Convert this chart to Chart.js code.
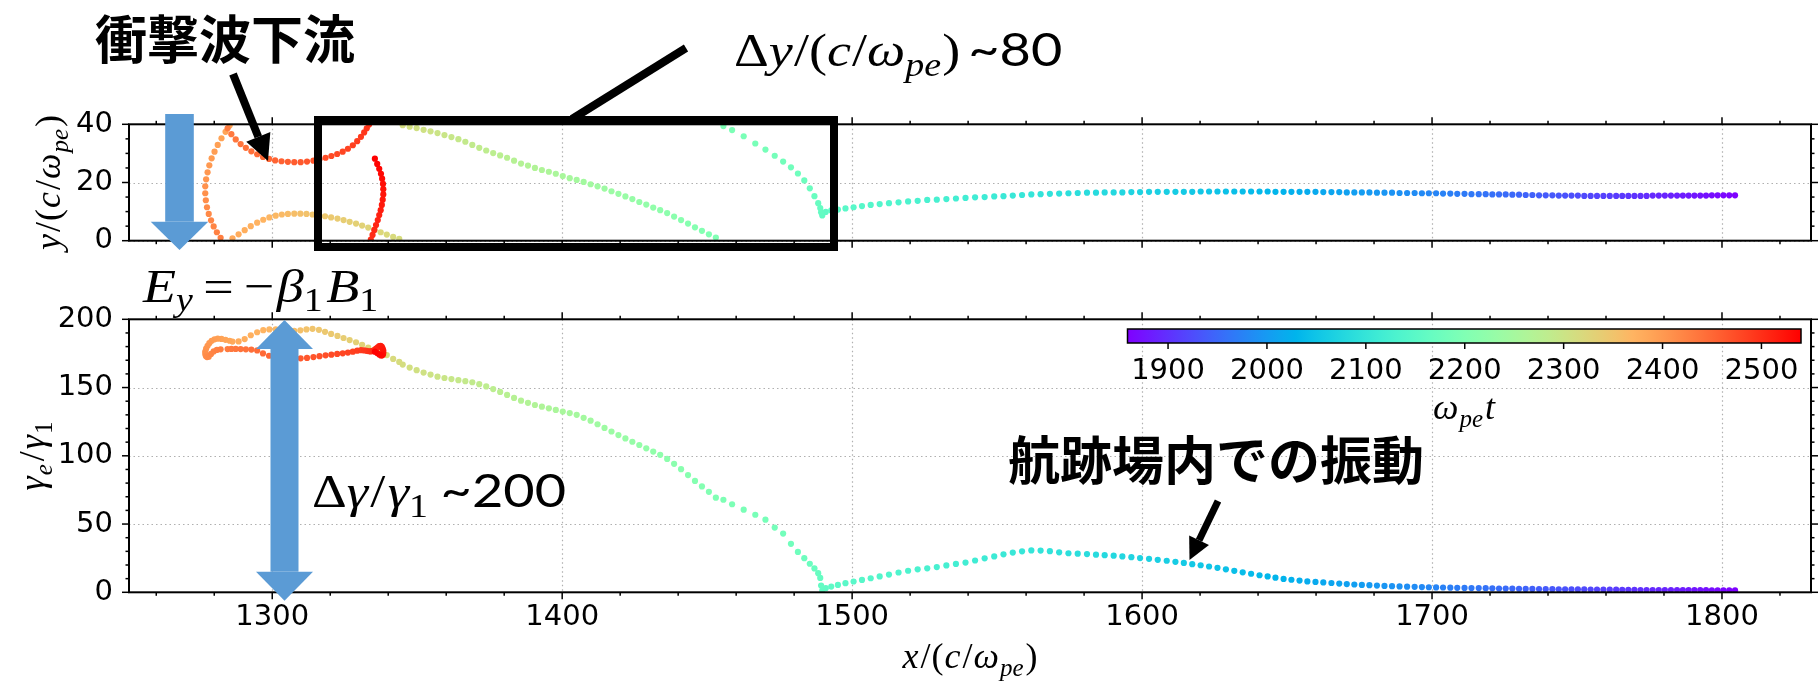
<!DOCTYPE html>
<html>
<head>
<meta charset="utf-8">
<script src="https://cdn.jsdelivr.net/npm/chart.js@4.4.1/dist/chart.umd.min.js"></script>
<style>
  html, body { margin: 0; padding: 0; background: #fff; }
  #wrap { position: relative; width: 1820px; height: 682px; overflow: hidden; }
  #wrap canvas { position: absolute; left: 0; top: 0; }
</style>
</head>
<body>
<div id="wrap">
  <canvas id="topChart" width="1820" height="682"></canvas>
  <canvas id="bottomChart" width="1820" height="682"></canvas>
  <canvas id="notes" width="1820" height="682"></canvas>
</div>
<script>
// sample times (omega_pe t) of the tracked electron
const timeW = [
  1860,1862.5,1865,1867.5,1870,1872.5,1875,1877.5,1880,1882.5,
  1885,1887.5,1890,1892.5,1895,1897.5,1900,1902.5,1905,1907.5,
  1910,1912.5,1915,1917.5,1920,1922.5,1925,1927.5,1930,1932.5,
  1935,1937.5,1940,1942.5,1945,1947.5,1950,1952.5,1955,1957.5,
  1960,1962.5,1965,1967.5,1970,1972.5,1975,1977.5,1980,1982.5,
  1985,1987.5,1990,1992.5,1995,1997.5,2000,2002.5,2005,2007.5,
  2010,2012.5,2015,2017.5,2020,2022.5,2025,2027.5,2030,2032.5,
  2035,2037.5,2040,2042.5,2045,2047.5,2050,2052.5,2055,2057.5,
  2060,2062.5,2065,2067.5,2070,2072.5,2075,2077.5,2080,2082.5,
  2085,2087.5,2090,2092.5,2095,2097.5,2100,2102.5,2105,2107.5,
  2110,2112.5,2115,2117.5,2120,2122.5,2125,2127.5,2130,2132.5,
  2135,2137.5,2140,2142.5,2145,2147.5,2150,2152.5,2155,2157.5,
  2160,2162.5,2165,2167.5,2170,2172.5,2175,2177.5,2180,2182.5,
  2185,2187.5,2190,2192.5,2195,2197.5,2200,2202.5,2205,2207.5,
  2210,2212.5,2215,2217.5,2220,2222.5,2225,2227.5,2230,2232.5,
  2235,2237.5,2240,2242.5,2245,2247.5,2250,2252.5,2255,2257.5,
  2260,2262.5,2265,2267.5,2270,2272.5,2275,2277.5,2280,2282.5,
  2285,2287.5,2290,2292.5,2295,2297.5,2300,2302.5,2305,2307.5,
  2310,2312.5,2315,2317.5,2320,2322.5,2325,2327.5,2330,2332.5,
  2335,2337.5,2340,2342.5,2345,2347.5,2350,2352.5,2355,2357.5,
  2360,2362.5,2365,2367.5,2370,2372.5,2375,2377.5,2380,2382.5,
  2385,2387.5,2390,2392.5,2395,2397.5,2400,2402.5,2405,2407.5,
  2410,2412.5,2415,2417.5,2420,2422.5,2425,2427.5,2430,2432.5,
  2435,2437.5,2440,2442.5,2445,2447.5,2450,2452.5,2455,2457.5,
  2460,2462.5,2465,2467.5,2470,2472.5,2475,2477.5,2480,2482.5,
  2485,2487.5,2490,2492.5,2495,2497.5,2500,2502.5,2505,2507.5,
  2510,2512.5,2515,2517.5,2520,2522.5,2525,2527.5,2530,2532.5,
  2535,2537.5,2540
];

// x / (c/omega_pe)
const posX = [
  1804.5,1802.5,1800.5,1798.5,1796.5,1794.5,1792.5,1790.5,1788.5,1786.5,
  1784.5,1782.4,1780.3,1778.2,1776.1,1774.0,1771.9,1769.8,1767.7,1765.6,
  1763.5,1761.3,1759.1,1756.9,1754.7,1752.5,1750.3,1748.1,1745.9,1743.7,
  1741.5,1739.2,1736.9,1734.6,1732.3,1730.0,1727.7,1725.4,1723.1,1720.8,
  1718.5,1716.1,1713.6,1711.2,1708.7,1706.3,1703.8,1701.4,1698.9,1696.5,
  1694.0,1691.4,1688.8,1686.2,1683.6,1681.0,1678.4,1675.8,1673.2,1670.6,
  1668.0,1665.3,1662.5,1659.8,1657.0,1654.3,1651.5,1648.8,1646.0,1643.3,
  1640.5,1637.6,1634.7,1631.8,1628.9,1626.0,1623.1,1620.2,1617.3,1614.4,
  1611.5,1608.5,1605.4,1602.4,1599.3,1596.3,1593.2,1590.2,1587.1,1584.1,
  1581.0,1577.8,1574.6,1571.4,1568.2,1565.0,1561.8,1558.6,1555.4,1552.2,
  1549.0,1545.7,1542.4,1539.1,1535.8,1532.5,1529.2,1525.9,1522.6,1519.3,
  1516.0,1512.7,1509.5,1506.4,1503.4,1500.5,1497.7,1495.1,1492.8,1490.9,
  1489.7,1489.3,1489.0,1488.3,1487.0,1485.4,1483.5,1481.3,1478.9,1476.2,
  1473.3,1470.1,1466.6,1462.6,1458.6,1455.6,
  1453.0,1450.6,1448.2,1445.8,1443.4,1441.0,1438.6,1436.2,1433.8,1431.4,
  1429.0,1426.6,1424.2,1421.8,1419.4,1417.0,1414.6,1412.2,1409.8,1407.4,
  1405.0,1402.6,1400.2,1397.8,1395.4,1393.0,1390.6,1388.2,1385.8,1383.4,
  1381.0,1378.6,1376.2,1373.8,1371.4,1369.0,1366.6,1364.2,1361.8,1359.4,
  1357.0,1354.6,1352.2,1349.8,1347.4,1345.0,
  1343.8,1341.7,1339.5,1337.4,1335.3,1333.1,1331.0,1328.9,1326.7,1324.6,
  1322.5,1320.3,1318.2,1316.1,1313.9,1311.8,1309.7,1307.6,1305.4,1303.3,
  1301.2,1299.0,1296.9,1294.8,1292.6,1290.5,1288.4,1286.3,
  1285.3,1283.9,1282.5,1281.2,1280.1,1279.1,1278.3,1277.7,1277.2,1276.9,
  1276.9,1277.1,1277.5,1278.1,1278.9,1279.8,1280.9,1282.2,
  1284.6,1285.9,1287.4,1289.1,1290.9,1292.8,1294.8,1296.8,1298.9,1301.0,
  1303.2,1305.4,1307.6,1309.8,1312.0,1314.2,1316.3,1318.4,1320.4,1322.4,
  1324.3,1326.1,1327.8,1329.3,1330.6,1331.7,1332.6,1333.4,
  1334.0,1334.6,1335.2,1335.8,1336.4,1336.9,1337.4,1337.8,1338.1,1338.3,
  1338.3,1338.2,1337.9,1337.5,1336.9,1336.2,1335.4
];

// y / (c/omega_pe), periodic in [0, 40]
const posY = [
  15.6,15.6,15.6,15.6,15.6,15.5,15.5,15.5,15.5,15.5,
  15.5,15.5,15.5,15.5,15.5,15.4,15.4,15.4,15.4,15.4,
  15.4,15.4,15.4,15.4,15.4,15.4,15.5,15.5,15.5,15.5,
  15.6,15.6,15.6,15.7,15.7,15.8,15.8,15.9,15.9,15.9,
  16.0,16.0,16.0,16.1,16.1,16.2,16.2,16.3,16.3,16.3,
  16.4,16.4,16.4,16.5,16.5,16.5,16.6,16.6,16.6,16.6,
  16.7,16.7,16.7,16.8,16.8,16.8,16.8,16.8,16.8,16.9,
  16.9,16.9,16.9,16.9,16.9,16.9,16.9,16.9,16.8,16.8,
  16.8,16.8,16.8,16.8,16.7,16.7,16.6,16.6,16.6,16.5,
  16.5,16.4,16.3,16.2,16.1,16.0,15.9,15.7,15.5,15.3,
  15.2,15.0,14.9,14.7,14.5,14.3,14.1,14.0,13.7,13.5,
  13.2,12.9,12.6,12.3,11.9,11.5,11.1,10.7,10.4,9.9,
  8.7,9.8,11.2,12.9,15.3,18.0,20.7,23.1,25.2,27.2,
  29.2,31.3,33.4,35.9,38.0,39.4,
  1.1,2.2,3.4,4.6,5.9,7.1,8.3,9.5,10.5,11.4,
  12.4,13.3,14.3,15.2,16.1,17.0,17.9,18.7,19.4,20.2,
  20.9,21.5,22.2,23.0,23.7,24.3,25.0,25.8,26.5,27.5,
  28.5,29.3,30.1,31.0,31.9,32.9,34.0,34.9,35.6,36.3,
  37.0,37.6,38.1,38.7,39.2,39.7,
  0.6,1.3,2.1,2.9,3.7,4.5,5.2,5.9,6.5,7.1,
  7.6,8.0,8.4,8.7,9.0,9.2,9.3,9.3,9.2,9.0,
  8.6,8.0,7.2,6.2,5.0,3.6,2.2,0.8,
  39.6,37.4,35.2,32.9,30.6,28.3,25.9,23.5,21.1,18.7,
  16.3,13.9,11.5,9.2,7.0,4.9,2.9,1.0,
  38.6,36.6,34.8,33.2,31.9,30.7,29.7,28.8,28.1,27.6,
  27.3,27.1,27.0,27.0,27.2,27.5,28.0,28.5,29.1,29.8,
  30.6,31.6,32.8,34.2,35.7,37.2,38.6,39.9,
  0.4,2.0,3.7,5.4,7.1,8.8,10.5,12.3,14.1,15.9,
  17.7,19.5,21.3,23.0,24.7,26.4,28.2
];

// gamma_e / gamma_1
const gammaE = [
  1.5,1.5,1.5,1.5,1.5,1.6,1.6,1.6,1.6,1.6,
  1.6,1.6,1.7,1.7,1.7,1.7,1.7,1.8,1.8,1.8,
  1.9,1.9,1.9,2.0,2.0,2.1,2.1,2.1,2.2,2.2,
  2.3,2.3,2.4,2.5,2.5,2.6,2.7,2.7,2.8,2.9,
  3.0,3.1,3.1,3.2,3.3,3.4,3.5,3.6,3.7,3.8,
  4.0,4.1,4.3,4.5,4.7,4.9,5.2,5.4,5.7,6.0,
  6.4,6.8,7.2,7.6,8.0,8.6,9.2,9.8,10.7,11.6,
  12.5,13.6,14.6,15.7,16.8,17.9,18.9,19.8,20.6,21.5,
  22.3,23.1,23.8,24.5,25.1,25.7,26.3,26.8,27.2,27.6,
  28.0,28.3,28.6,29.3,30.1,30.6,30.7,30.0,29.1,27.8,
  26.3,24.9,23.3,21.8,20.8,19.7,18.5,17.6,16.8,15.8,
  14.5,13.0,11.6,10.3,9.1,7.9,6.7,5.4,4.2,3.0,
  1.2,5.0,10.5,14.0,17.5,20.9,25.0,29.6,35.5,43.0,
  47.4,53.2,56.8,60.5,64.5,67.8,
  69.3,73.6,77.6,81.6,85.9,90.2,94.1,97.7,100.7,103.1,
  105.5,107.9,110.3,112.7,115.2,117.8,120.4,123.1,125.7,127.8,
  130.0,131.3,132.4,133.6,134.8,136.0,137.2,138.8,140.4,142.4,
  144.6,146.8,148.9,150.8,152.5,153.9,154.7,155.4,156.2,157.0,
  158.0,159.5,161.0,162.7,164.6,166.8,
  168.8,171.0,173.8,175.8,177.5,179.3,181.3,183.2,184.8,186.3,
  187.8,189.3,190.8,192.3,193.0,192.6,191.9,191.6,191.8,192.2,
  192.6,192.6,192.0,190.5,188.3,185.5,183.8,183.7,
  184.3,185.0,185.6,185.8,185.3,184.2,182.5,180.6,178.5,176.4,
  174.6,173.2,172.3,172.6,174.6,176.5,177.6,178.0,
  178.2,178.3,178.3,178.2,178.0,177.8,177.2,175.0,173.3,172.6,
  172.2,171.8,171.5,171.4,171.7,172.3,173.0,173.6,174.1,174.6,
  175.1,175.6,176.3,177.0,177.4,177.2,176.9,176.6,
  176.5,176.8,177.5,178.5,179.5,180.3,180.5,179.8,178.5,177.0,
  175.5,174.3,173.6,173.5,174.2,175.3,176.3
];

// axis ticks
const xTicks = [1300, 1400, 1500, 1600, 1700, 1800];
const xMinor = [1260, 1280, 1320, 1340, 1360, 1380, 1420, 1440, 1460, 1480, 1520, 1540, 1560, 1580,
                1620, 1640, 1660, 1680, 1720, 1740, 1760, 1780, 1820];
const yTopTicks = [0, 20, 40];
const yTopMinor = [5, 10, 15, 25, 30, 35];
const gammaTicks = [0, 50, 100, 150, 200];
const gammaMinor = [10, 20, 30, 40, 60, 70, 80, 90, 110, 120, 130, 140, 160, 170, 180, 190];
const cbarTicks = [1900, 2000, 2100, 2200, 2300, 2400, 2500];
const cbarRange = [1859, 2540];

// matplotlib "rainbow" colormap
function rainbow(f) {
  f = Math.max(0, Math.min(1, f));
  const r = Math.min(1, Math.abs(2 * f - 0.5));
  const g = Math.sin(Math.PI * f);
  const b = Math.cos(Math.PI * f / 2);
  return `rgb(${Math.round(r * 255)},${Math.round(g * 255)},${Math.round(b * 255)})`;
}
const pointColors = timeW.map(t => rainbow((t - cbarRange[0]) / (cbarRange[1] - cbarRange[0])));

const tickFont = { family: "'DejaVu Sans'", size: 29 };

// dotted grid under the points, frame and ticks on top of them
const framePlugin = {
  id: 'frame',
  beforeDatasetsDraw(chart, args, opts) {
    const { ctx, chartArea: a, scales } = chart;
    ctx.save();
    ctx.strokeStyle = '#b0b0b0';
    ctx.lineWidth = 1.2;
    ctx.setLineDash([1.5, 3]);
    xTicks.forEach(v => {
      const px = Math.round(scales.x.getPixelForValue(v)) + 0.5;
      ctx.beginPath(); ctx.moveTo(px, a.top); ctx.lineTo(px, a.bottom); ctx.stroke();
    });
    opts.yMajor.forEach(v => {
      const py = Math.round(scales.y.getPixelForValue(v)) + 0.5;
      ctx.beginPath(); ctx.moveTo(a.left, py); ctx.lineTo(a.right, py); ctx.stroke();
    });
    ctx.restore();
  },
  afterDatasetsDraw(chart, args, opts) {
    const { ctx, chartArea: a, scales } = chart;
    const line = (x1, y1, x2, y2) => { ctx.beginPath(); ctx.moveTo(x1, y1); ctx.lineTo(x2, y2); ctx.stroke(); };
    ctx.save();
    ctx.strokeStyle = '#000';
    ctx.lineWidth = 1.5;
    const xs = [[xTicks, 7], [xMinor, 3.5]];
    xs.forEach(([vals, len]) => vals.forEach(v => {
      const px = scales.x.getPixelForValue(v);
      if (px < a.left - 0.5 || px > a.right + 0.5) return;
      line(px, a.bottom, px, a.bottom + len);
      line(px, a.top, px, a.top - len);
    }));
    const ys = [[opts.yMajor, 7], [opts.yMinor, 3.5]];
    ys.forEach(([vals, len]) => vals.forEach(v => {
      const py = scales.y.getPixelForValue(v);
      line(a.left, py, a.left - len, py);
      line(a.right, py, a.right + len, py);
    }));
    ctx.lineWidth = 2;
    ctx.strokeRect(a.left, a.top, a.right - a.left, a.bottom - a.top);
    ctx.restore();
  }
};

function axisX(showLabels) {
  return {
    type: 'linear', min: 1250.6, max: 1830.7,
    afterBuildTicks: s => { s.ticks = xTicks.map(v => ({ value: v })); },
    afterFit: s => { s.height = showLabels ? 50 : 0; },
    ticks: { display: showLabels, font: tickFont, color: '#000', padding: 8, maxRotation: 0,
             callback: v => String(v) },
    grid: { display: false, drawTicks: false }, border: { display: false }
  };
}
function axisY(min, max, ticks) {
  return {
    type: 'linear', min: min, max: max,
    afterBuildTicks: s => { s.ticks = ticks.map(v => ({ value: v })); },
    afterFit: s => { s.width = 129; },
    ticks: { font: tickFont, color: '#000', padding: 16, callback: v => String(v) },
    grid: { display: false, drawTicks: false }, border: { display: false }
  };
}

const topChart = new Chart(document.getElementById('topChart'), {
  type: 'scatter',
  data: {
    datasets: [{
      data: posX.map((x, i) => ({ x: x, y: posY[i] })),
      pointRadius: 3.1, pointBorderWidth: 0,
      pointBackgroundColor: pointColors
    }]
  },
  options: {
    responsive: false, animation: false, devicePixelRatio: 1,
    layout: { padding: { top: 124.3, left: 0, right: 9, bottom: 682 - 240.7 } },
    plugins: { legend: { display: false }, tooltip: { enabled: false },
               frame: { yMajor: yTopTicks, yMinor: yTopMinor } },
    scales: { x: axisX(false), y: axisY(0, 40, yTopTicks) }
  },
  plugins: [framePlugin]
});

const bottomChart = new Chart(document.getElementById('bottomChart'), {
  type: 'scatter',
  data: {
    datasets: [{
      data: posX.map((x, i) => ({ x: x, y: gammaE[i] })),
      pointRadius: 3.1, pointBorderWidth: 0,
      pointBackgroundColor: pointColors
    }]
  },
  options: {
    responsive: false, animation: false, devicePixelRatio: 1,
    layout: { padding: { top: 319.3, left: 0, right: 9, bottom: 682 - 592.3 - 50 } },
    plugins: { legend: { display: false }, tooltip: { enabled: false },
               frame: { yMajor: gammaTicks, yMinor: gammaMinor } },
    scales: { x: axisX(true), y: axisY(0, 200, gammaTicks) }
  },
  plugins: [framePlugin]
});

// ---------- labels, colorbar and slide annotations ----------
const SERIF = "'Liberation Serif'";
function it(s) { return `italic ${s}px ${SERIF}`; }
function rm(s) { return `${s}px ${SERIF}`; }

// parts: [text, font, dy, gapAfter]
function richText(ctx, parts, x, y, align) {
  let w = 0;
  parts.forEach(p => { ctx.font = p[1]; w += ctx.measureText(p[0]).width + (p[3] || 0); });
  let cx = align === 'center' ? x - w / 2 : x;
  parts.forEach(p => {
    ctx.font = p[1];
    ctx.fillText(p[0], cx, y + (p[2] || 0));
    cx += ctx.measureText(p[0]).width + (p[3] || 0);
  });
}
// slide equations are set in a wider face than Times; stretch a little
function wideText(ctx, parts, x, y, sx) {
  ctx.save();
  ctx.translate(x, y); ctx.scale(sx, 1);
  richText(ctx, parts, 0, 0, 'left');
  ctx.restore();
}

function lineArrow(ctx, x1, y1, x2, y2, w, headL, headW) {
  const ang = Math.atan2(y2 - y1, x2 - x1);
  const bx = x2 - headL * Math.cos(ang), by = y2 - headL * Math.sin(ang);
  ctx.lineWidth = w;
  ctx.beginPath(); ctx.moveTo(x1, y1); ctx.lineTo(bx, by); ctx.stroke();
  ctx.beginPath();
  ctx.moveTo(x2, y2);
  ctx.lineTo(bx + headW / 2 * Math.sin(ang), by - headW / 2 * Math.cos(ang));
  ctx.lineTo(bx - headW / 2 * Math.sin(ang), by + headW / 2 * Math.cos(ang));
  ctx.closePath(); ctx.fill();
}

function blockArrow(ctx, cx, yTail, yTip, shaftW, headW, headL, both) {
  const dir = Math.sign(yTip - yTail);
  const yBase = yTip - dir * headL;
  const yStart = both ? yTail + dir * headL : yTail;
  ctx.fillRect(cx - shaftW / 2, Math.min(yStart, yBase), shaftW, Math.abs(yBase - yStart));
  const head = (tip, base) => {
    ctx.beginPath();
    ctx.moveTo(cx - headW / 2, base); ctx.lineTo(cx, tip); ctx.lineTo(cx + headW / 2, base);
    ctx.closePath(); ctx.fill();
  };
  head(yTip, yBase);
  if (both) head(yTail, yStart);
}

function drawNotes() {
  const ctx = document.getElementById('notes').getContext('2d');
  ctx.fillStyle = '#000';
  ctx.strokeStyle = '#000';
  ctx.textBaseline = 'alphabetic';

  // axis titles (matplotlib mathtext)
  const S = 36, sub = Math.round(S * 0.7);
  richText(ctx, [['x', it(S), 0, 2], ['/', rm(S), 0, 1], ['(', rm(S), 0, 1], ['c', it(S), 0, 2],
                 ['/', rm(S), 0, 1], ['ω', it(S), 0, 1], ['pe', it(sub), 8, 2], [')', rm(S)]],
           970, 668, 'center');
  ctx.save();
  ctx.translate(60, 182.5); ctx.rotate(-Math.PI / 2);
  richText(ctx, [['y', it(S), 0, 2], ['/', rm(S), 0, 1], ['(', rm(S), 0, 1], ['c', it(S), 0, 2],
                 ['/', rm(S), 0, 1], ['ω', it(S), 0, 1], ['pe', it(sub), 8, 2], [')', rm(S)]],
           0, 0, 'center');
  ctx.restore();
  ctx.save();
  ctx.translate(44, 456); ctx.rotate(-Math.PI / 2);
  richText(ctx, [['γ', it(S), 0, 1], ['e', it(sub), 8, 3], ['/', rm(S), 0, 2], ['γ', it(S), 0, 1], ['1', rm(sub), 8]],
           0, 0, 'center');
  ctx.restore();

  // colorbar inside the lower panel
  const cb = { left: 1127.5, right: 1801, top: 329, bottom: 343 };
  const grad = ctx.createLinearGradient(cb.left, 0, cb.right, 0);
  for (let i = 0; i <= 40; i++) grad.addColorStop(i / 40, rainbow(i / 40));
  ctx.fillStyle = grad;
  ctx.fillRect(cb.left, cb.top, cb.right - cb.left, cb.bottom - cb.top);
  ctx.lineWidth = 1.5;
  ctx.strokeRect(cb.left, cb.top, cb.right - cb.left, cb.bottom - cb.top);
  ctx.fillStyle = '#000';
  ctx.font = "29px 'DejaVu Sans'";
  ctx.textAlign = 'center';
  ctx.textBaseline = 'middle';
  cbarTicks.forEach(v => {
    const px = cb.left + (v - cbarRange[0]) / (cbarRange[1] - cbarRange[0]) * (cb.right - cb.left);
    ctx.beginPath(); ctx.moveTo(px, cb.bottom); ctx.lineTo(px, cb.bottom + 6); ctx.stroke();
    ctx.fillText(String(v), px, 371);
  });
  ctx.textAlign = 'left';
  ctx.textBaseline = 'alphabetic';
  richText(ctx, [['ω', it(S), 0, 1], ['pe', it(sub), 8, 2], ['t', it(S)]], 1464, 419, 'center');

  // black box around the upper panel region and its leader line
  ctx.lineWidth = 8;
  ctx.strokeRect(318, 120, 834 - 318, 247 - 120);
  ctx.beginPath(); ctx.moveTo(572, 119); ctx.lineTo(686, 48); ctx.stroke();

  // blue arrows
  ctx.fillStyle = '#5b9bd5';
  blockArrow(ctx, 179.5, 114, 250, 28.6, 57.6, 28.3, false);
  blockArrow(ctx, 284.5, 320, 600.7, 28, 57, 29, true);

  // black pointer arrows
  ctx.fillStyle = '#000';
  lineArrow(ctx, 233, 74, 268, 161, 8, 26, 26);
  lineArrow(ctx, 1218, 501, 1189.5, 560, 7, 22, 22);

  // Japanese captions
  ctx.textBaseline = 'middle';
  ctx.font = "bold 52px 'Noto Sans CJK JP'";
  ctx.fillText('衝撃波下流', 95, 39);
  ctx.fillText('航跡場内での振動', 1008, 460);

  // slide equations
  ctx.textBaseline = 'alphabetic';
  const E = 47, es = Math.round(E * 0.7), SX = 1.15;
  wideText(ctx, [['Δ', rm(E)], ['y', it(E), 0, 1], ['/', rm(E)], ['(', rm(E)], ['c', it(E), 0, 1], ['/', rm(E)],
                 ['ω', it(E)], ['pe', it(es), 10, 1], [')', rm(E), 0, 7], ['~80', `${E}px Lato`]],
           734, 66, SX);
  wideText(ctx, [['E', it(E)], ['y', it(es), 9, 9], ['=', rm(E), 0, 9], ['−', rm(E), 0, 2], ['β', it(E)],
                 ['1', rm(es), 9, 3], ['B', it(E)], ['1', rm(es), 9]],
           143, 302, SX);
  wideText(ctx, [['Δ', rm(E)], ['γ', it(E), 0, 2], ['/', rm(E), 0, 2], ['γ', it(E)], ['1', rm(es), 10, 11],
                 ['~200', `${E}px Lato`]],
           312, 507, SX);
}
drawNotes();
</script>
</body>
</html>
